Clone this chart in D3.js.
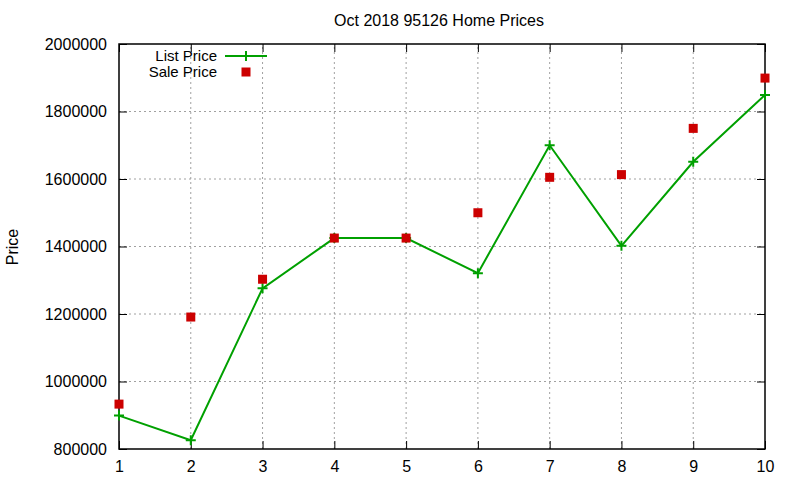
<!DOCTYPE html>
<html>
<head>
<meta charset="utf-8">
<script src="https://cdn.jsdelivr.net/npm/d3@7"></script>
<style>
  body { margin: 0; background: #fff; }
  text { font-family: "Liberation Sans", Arial, sans-serif; fill: #000; }
</style>
</head>
<body>
<div id="chart"></div>
<script>
var lots = [1, 2, 3, 4, 5, 6, 7, 8, 9, 10];
var listPrice = [899000, 826000, 1276000, 1425000, 1425000, 1321000, 1700000, 1402000, 1651000, 1849000];
var salePrice = [933000, 1191000, 1303000, 1425000, 1425000, 1500000, 1605000, 1613000, 1750000, 1899000];
var yTicks = [800000, 1000000, 1200000, 1400000, 1600000, 1800000, 2000000];

var width = 800,
    height = 480;
var margin = {top: 44, right: 35, bottom: 31, left: 119};

var svg = d3.select("#chart")
    .append("svg")
    .attr("width", width)
    .attr("height", height);

var x = d3.scaleLinear()
    .domain([1, 10])
    .range([margin.left, width - margin.right]);

var y = d3.scaleLinear()
    .domain([800000, 2000000])
    .range([height - margin.bottom, margin.top]);

var green = "#00a000",
    red = "#cc0000";

// grid
var grid = svg.append("g");
grid.selectAll(".gx")
    .data(lots.slice(1, -1))
    .enter()
    .append("line")
    .attr("x1", function(d) { return x(d); })
    .attr("x2", function(d) { return x(d); })
    .attr("y1", y(800000))
    .attr("y2", y(2000000))
    .attr("stroke", "#a0a0a0")
    .attr("stroke-dasharray", "2,3");
grid.selectAll(".gy")
    .data(yTicks.slice(1, -1))
    .enter()
    .append("line")
    .attr("y1", function(d) { return y(d); })
    .attr("y2", function(d) { return y(d); })
    .attr("x1", x(1))
    .attr("x2", x(10))
    .attr("stroke", "#a0a0a0")
    .attr("stroke-dasharray", "2,3");

// axes with mirrored ticks (gnuplot style, inward)
var fmt = function(d) { return d3.format("d")(d); };
svg.append("g")
    .attr("transform", "translate(0," + y(800000) + ")")
    .call(d3.axisBottom(x).tickValues(lots).tickSize(-8).tickPadding(12).tickFormat(d3.format("d")))
    .call(function(g) { g.select(".domain").remove(); })
    .selectAll("text").style("font-size", "16px");
svg.append("g")
    .attr("transform", "translate(0," + y(2000000) + ")")
    .call(d3.axisTop(x).tickValues(lots).tickSize(-8).tickFormat(""))
    .call(function(g) { g.select(".domain").remove(); });
svg.append("g")
    .attr("transform", "translate(" + x(1) + ",0)")
    .call(d3.axisLeft(y).tickValues(yTicks).tickSize(-8).tickPadding(12).tickFormat(fmt))
    .call(function(g) { g.select(".domain").remove(); })
    .selectAll("text").style("font-size", "16px");
svg.append("g")
    .attr("transform", "translate(" + x(10) + ",0)")
    .call(d3.axisRight(y).tickValues(yTicks).tickSize(-8).tickFormat(""))
    .call(function(g) { g.select(".domain").remove(); });

svg.append("rect")
    .attr("x", x(1))
    .attr("y", y(2000000))
    .attr("width", x(10) - x(1))
    .attr("height", y(800000) - y(2000000))
    .attr("fill", "none")
    .attr("stroke", "#000")
    .attr("stroke-width", 1.5);

// list price line
var line = d3.line()
    .x(function(d, i) { return x(lots[i]); })
    .y(function(d) { return y(d); });

svg.append("path")
    .datum(listPrice)
    .attr("d", line)
    .attr("fill", "none")
    .attr("stroke", green)
    .attr("stroke-width", 2);

function plus(g, cx, cy) {
    g.append("path")
        .attr("d", "M" + (cx - 5) + "," + cy + "H" + (cx + 5) + "M" + cx + "," + (cy - 5) + "V" + (cy + 5))
        .attr("stroke", green)
        .attr("stroke-width", 2);
}

var marks = svg.append("g");
listPrice.forEach(function(d, i) {
    plus(marks, x(lots[i]), y(d));
});

marks.selectAll(".sale")
    .data(salePrice)
    .enter()
    .append("rect")
    .attr("class", "sale")
    .attr("x", function(d, i) { return x(lots[i]) - 4.5; })
    .attr("y", function(d) { return y(d) - 4.5; })
    .attr("width", 9)
    .attr("height", 9)
    .attr("fill", red);

// legend
var legend = svg.append("g");
legend.append("text")
    .attr("x", 217).attr("y", 61)
    .attr("text-anchor", "end")
    .style("font-size", "15px")
    .text("List Price");
legend.append("line")
    .attr("x1", 225).attr("x2", 267)
    .attr("y1", 56).attr("y2", 56)
    .attr("stroke", green)
    .attr("stroke-width", 2);
plus(legend, 246, 56);
legend.append("text")
    .attr("x", 217).attr("y", 77)
    .attr("text-anchor", "end")
    .style("font-size", "15px")
    .text("Sale Price");
legend.append("rect")
    .attr("x", 241.5).attr("y", 67.5)
    .attr("width", 9).attr("height", 9)
    .attr("fill", red);

// title and label
svg.append("text")
    .attr("x", 439).attr("y", 26)
    .attr("text-anchor", "middle")
    .style("font-size", "16px")
    .text("Oct 2018 95126 Home Prices");

svg.append("text")
    .attr("transform", "translate(18,247) rotate(-90)")
    .attr("text-anchor", "middle")
    .style("font-size", "16px")
    .text("Price");
</script>
</body>
</html>
